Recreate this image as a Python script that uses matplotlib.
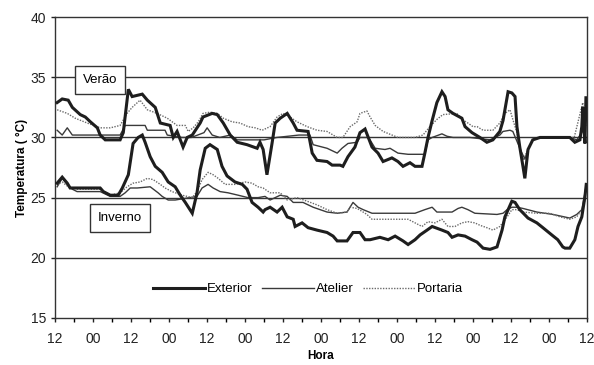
import numpy as np
import matplotlib
matplotlib.use("Agg")
import matplotlib.pyplot as plt

plt.rcParams['font.family'] = ['Liberation Sans', 'DejaVu Sans']

# Verão (summer), hours from first 12:00 mark
ver_ext_h = [0.6, 2.2, 4.1, 5.4, 7.9, 9.5, 11.1, 13.3, 14.2, 15.8, 20.5, 21.5, 22.7, 23.1, 24.3, 27.5,
             29.1, 31.6, 33.2, 36.3, 37.3, 38.5, 40.4, 41.7, 43.3, 45.8, 46.7, 49.6, 51.2, 53.1, 55.3,
             57.5, 60.6, 63.8, 64.7, 65.7, 66.9, 68.5, 69.5, 71.1, 73.3, 75.2, 76.4, 79.9, 81.2, 82.7,
             85.9, 87.5, 90.0, 90.9, 92.5, 94.7, 96.3, 97.9, 100.1, 102.0, 103.6, 106.4, 108.3, 109.9,
             112.1, 113.7, 115.9, 116.8, 117.8, 119.1, 120.6, 122.2, 123.2, 124.1, 125.7, 128.5, 129.5,
             131.7, 134.2, 136.4, 138.3, 140.5, 141.5, 143.1, 144.3, 145.3, 145.9, 146.8, 147.8, 148.4,
             149.4, 150.9, 153.2, 162.6, 164.2, 165.8, 166.4, 166.7, 167.4, 167.7]
ver_ext_t = [32.9, 33.2, 33.1, 32.5, 31.9, 31.7, 31.3, 30.8, 30.2, 29.8, 29.8, 30.4, 33.1, 34.0, 33.4, 33.6,
             33.1, 32.5, 31.2, 31.0, 30.0, 30.5, 29.2, 30.0, 30.2, 31.2, 31.7, 32.0, 31.9, 31.2, 30.2,
             29.6, 29.4, 29.1, 29.6, 29.0, 26.9, 29.5, 31.2, 31.6, 32.0, 31.2, 30.6, 30.5, 28.7, 28.1,
             28.0, 27.7, 27.7, 27.6, 28.4, 29.2, 30.4, 30.7, 29.2, 28.7, 28.0, 28.3, 28.0, 27.6,
             27.9, 27.6, 27.6, 28.7, 30.0, 31.4, 32.9, 33.8, 33.4, 32.3, 32.0, 31.6, 30.9,
             30.4, 30.0, 29.6, 29.8, 30.5, 31.4, 33.8, 33.7, 33.4, 30.9, 29.2, 27.6, 26.6,
             29.0, 29.8, 30.0, 30.0, 29.6, 29.8, 30.9, 32.5, 29.5, 33.3]

ver_ate_h = [0.6, 2.2, 3.8, 5.4, 20.5, 22.1, 28.4, 29.1, 34.7, 35.4, 40.0, 43.0, 47.0, 48.0, 49.6, 52.0,
             55.3, 57.5, 66.0, 70.0, 77.0, 80.5, 81.5, 85.9, 89.1, 90.6, 92.5, 95.4, 96.3, 99.0, 101.1,
             104.2, 105.8, 108.3, 111.5, 116.8, 117.8, 119.1, 122.2, 123.8, 125.7, 131.0, 137.4, 140.5,
             141.5, 143.7, 144.6, 146.2, 147.5, 148.4, 149.4, 150.9, 153.2, 162.6, 164.8, 166.4, 167.6]
ver_ate_t = [30.6, 30.2, 30.8, 30.2, 30.2, 31.0, 31.0, 30.6, 30.6, 30.2, 30.0, 30.0, 30.4, 30.8, 30.2, 30.0,
             30.2, 29.8, 29.8, 30.0, 30.2, 30.2, 29.4, 29.1, 28.7, 29.1, 29.5, 29.6, 30.0, 30.0, 29.1,
             29.0, 29.1, 28.7, 28.6, 28.6, 29.8, 30.0, 30.3, 30.1, 30.0, 30.0, 29.8, 30.2,
             30.5, 30.6, 30.5, 29.5, 28.7, 28.2, 29.0, 29.8, 30.0, 30.0, 29.8, 30.4, 31.0]

ver_por_h = [0.6, 3.8, 6.3, 10.1, 14.2, 17.4, 20.5, 22.7, 24.3, 26.8, 29.1, 32.2, 35.4, 38.5, 41.1, 42.0,
             43.6, 45.2, 46.7, 48.9, 51.2, 53.1, 55.9, 58.4, 60.9, 63.2, 65.4, 67.9, 70.1, 72.0, 74.2,
             76.4, 79.6, 82.7, 85.9, 89.1, 90.9, 93.2, 95.4, 96.3, 98.5, 99.5, 101.1, 103.6, 108.3,
             113.7, 116.2, 118.4, 120.6, 122.5, 126.9, 128.5, 130.4, 132.0, 133.3, 135.2, 138.3, 140.5,
             142.1, 143.7, 144.6, 145.9, 146.8, 147.8, 149.4, 150.9, 153.2, 164.0, 166.7, 167.6]
ver_por_t = [32.3, 32.0, 31.6, 31.2, 30.8, 30.8, 31.0, 32.0, 32.5, 33.1, 32.3, 32.0, 31.6, 31.0, 31.0, 30.5,
             30.8, 31.3, 32.0, 32.1, 32.0, 31.6, 31.3, 31.2, 30.9, 30.8, 30.6, 30.9, 31.7, 32.0, 31.7,
             31.3, 30.9, 30.6, 30.5, 30.0, 30.0, 30.9, 31.3, 32.0, 32.2, 31.7, 31.0, 30.5, 30.0,
             30.0, 30.2, 30.9, 31.5, 31.9, 32.0, 31.5, 31.2, 30.9, 30.9, 30.6, 30.6, 31.2,
             32.0, 32.3, 31.5, 30.4, 29.2, 28.1, 29.0, 29.8, 30.0, 30.0, 32.9, 30.5]

# Inverno (winter)
inv_ext_h = [0.6, 2.2, 3.8, 4.7, 14.2, 15.2, 17.4, 19.9, 21.2, 23.1, 24.6, 26.2, 27.5, 28.4, 30.0, 31.6,
             33.8, 35.7, 37.9, 39.5, 41.1, 43.3, 44.8, 45.8, 47.4, 48.9, 51.2, 52.7, 54.3, 56.8, 59.1,
             60.6, 62.2, 64.1, 65.7, 66.3, 67.9, 70.1, 71.7, 73.3, 75.2, 75.8, 78.0, 79.9, 82.7, 85.9,
             87.8, 89.1, 92.2, 94.1, 96.3, 97.9, 99.5, 102.6, 105.2, 107.4, 109.9, 111.5, 113.7, 115.3,
             117.5, 119.1, 122.2, 124.1, 125.4, 127.3, 129.5, 131.7, 133.3, 135.2, 137.4, 139.6, 141.2,
             142.1, 144.3, 145.3, 146.8, 149.4, 152.2, 154.1, 156.9, 158.8, 160.4, 161.1, 162.6, 164.2,
             165.2, 166.4, 167.4, 167.8]
inv_ext_t = [26.2, 26.7, 26.2, 25.8, 25.8, 25.5, 25.2, 25.2, 25.8, 26.9, 29.5, 30.0, 30.2, 29.6, 28.4, 27.6,
             27.1, 26.3, 25.9, 25.2, 24.6, 23.7, 25.4, 27.3, 29.1, 29.4, 29.0, 27.6, 26.8, 26.3, 26.1,
             25.7, 24.6, 24.2, 23.8, 24.0, 24.2, 23.8, 24.2, 23.4, 23.2, 22.6, 22.9, 22.5, 22.3, 22.1,
             21.8, 21.4, 21.4, 22.1, 22.1, 21.5, 21.5, 21.7, 21.5, 21.8, 21.4, 21.1, 21.5, 21.9,
             22.3, 22.6, 22.3, 22.1, 21.7, 21.9, 21.8, 21.5, 21.3, 20.8, 20.7, 20.9, 22.3,
             23.4, 24.7, 24.6, 24.0, 23.3, 22.9, 22.5, 21.9, 21.5, 20.9, 20.8, 20.8, 21.5,
             22.6, 23.4, 25.1, 26.1]

inv_ate_h = [0.6, 2.2, 3.8, 5.4, 6.9, 14.2, 17.4, 20.5, 22.1, 23.7, 25.9, 30.0, 32.5, 33.8, 35.7, 37.9,
             44.8, 46.4, 48.3, 49.9, 52.1, 54.6, 57.8, 60.9, 64.1, 66.3, 67.9, 71.1, 73.3, 75.2, 78.3,
             81.5, 85.9, 89.1, 92.2, 94.1, 95.7, 97.3, 100.1, 113.7, 116.8, 119.1, 120.6, 125.4, 127.3,
             128.5, 130.4, 132.6, 139.6, 141.5, 142.8, 144.3, 145.9, 147.8, 152.2, 157.3, 162.6, 164.8,
             166.4, 167.4, 167.8]
inv_ate_t = [25.9, 26.6, 26.1, 25.7, 25.5, 25.5, 25.1, 25.1, 25.4, 25.8, 25.8, 25.9, 25.4, 25.1, 24.8, 24.8,
             25.1, 25.8, 26.1, 25.8, 25.5, 25.4, 25.2, 25.0, 25.0, 25.1, 24.8, 25.2, 25.1, 24.6, 24.6,
             24.2, 23.8, 23.7, 23.8, 24.6, 24.2, 24.0, 23.7, 23.7, 24.0, 24.2, 23.8, 23.8, 24.1,
             24.2, 24.0, 23.7, 23.6, 23.7, 24.0, 24.2, 24.2, 24.1, 23.8, 23.6, 23.3, 23.6,
             24.0, 25.4, 26.0]

inv_por_h = [0.6, 2.2, 4.1, 6.9, 14.2, 17.4, 20.5, 22.7, 24.6, 26.8, 29.1, 30.9, 33.2, 34.7, 36.9, 40.1,
             43.3, 44.8, 46.4, 48.3, 49.9, 51.5, 53.7, 56.8, 60.0, 62.2, 64.1, 65.7, 67.9, 71.1, 73.3,
             76.4, 79.6, 82.7, 85.9, 89.1, 92.2, 93.2, 95.4, 97.3, 98.5, 100.1, 104.2, 111.5, 113.7,
             115.9, 117.8, 120.0, 122.2, 124.1, 126.3, 128.5, 130.4, 132.6, 134.2, 136.4, 138.3, 140.5,
             142.8, 144.3, 145.9, 147.8, 152.2, 156.3, 159.5, 162.6, 164.8, 166.4, 167.4]
inv_por_t = [26.1, 26.3, 25.9, 25.7, 25.7, 25.2, 25.4, 25.9, 26.2, 26.3, 26.6, 26.5, 26.1, 25.8, 25.5, 25.2,
             25.0, 25.5, 26.5, 27.1, 26.9, 26.6, 26.1, 26.1, 26.3, 26.2, 25.9, 25.8, 25.4, 25.4, 24.8,
             25.0, 24.7, 24.4, 24.0, 23.7, 23.8, 24.2, 24.1, 23.8, 23.6, 23.2, 23.2, 23.2, 22.9,
             22.6, 23.0, 22.9, 23.2, 22.6, 22.6, 22.9, 23.0, 22.9, 22.7, 22.5, 22.3, 22.6,
             23.4, 24.0, 24.0, 23.8, 23.7, 23.7, 23.4, 23.2, 23.4, 24.0, 24.8]

xtick_labels = ["12", "00"] * 7 + ["12"]

fig = plt.figure(figsize=(5.94, 3.65), dpi=100)
ax = fig.add_axes([0.093, 0.129, 0.895, 0.824])

ext_style = dict(color="#1e1e1e", linewidth=2.2, solid_joinstyle="miter")
ate_style = dict(color="#3a3a3a", linewidth=1.0)
por_style = dict(color="#6a6a6a", linewidth=1.0, linestyle=(0, (1, 1)))

for y in [20, 25, 30, 35]:
    ax.axhline(y, color="#333333", linewidth=1.0, zorder=1)

ax.plot(ver_ate_h, ver_ate_t, **ate_style, zorder=3)
ax.plot(ver_por_h, ver_por_t, **por_style, zorder=3)
ax.plot(ver_ext_h, ver_ext_t, **ext_style, zorder=4)
ax.plot(inv_ate_h, inv_ate_t, **ate_style, zorder=3)
ax.plot(inv_por_h, inv_por_t, **por_style, zorder=3)
ax.plot(inv_ext_h, inv_ext_t, **ext_style, zorder=4)

# legend proxies
ax.plot([], [], label="Exterior", **ext_style)
ax.plot([], [], label="Atelier", **ate_style)
ax.plot([], [], label="Portaria", **por_style)
handles, labels = ax.get_legend_handles_labels()
ax.legend(handles, labels, loc="center", bbox_to_anchor=(0.475, 0.095), ncol=3, frameon=False,
          fontsize=9.5, handlelength=4.0, handletextpad=0.1, columnspacing=0.7)

box = dict(boxstyle="square,pad=0.6", facecolor="white", edgecolor="#333333", linewidth=1.0)
ax.text(14.2, 34.8, "Verão", ha="center", va="center", fontsize=9.5, bbox=box, zorder=6)
ax.text(20.5, 23.3, "Inverno", ha="center", va="center", fontsize=9.5, bbox=box, zorder=6)

ax.set_xlim(0, 168)
ax.set_ylim(15, 40)
ax.set_xticks(np.arange(0, 169, 12))
ax.set_xticklabels(xtick_labels)
ax.set_xticks(np.arange(0, 169, 6), minor=True)
ax.set_yticks([15, 20, 25, 30, 35, 40])
ax.tick_params(axis="both", direction="out", length=3, width=1, labelsize=10, colors="#222222")
ax.tick_params(axis="x", which="minor", direction="out", length=3, width=1)
ax.tick_params(axis="x", pad=7)

for s in ax.spines.values():
    s.set_color("#333333")
    s.set_linewidth(1.0)

ax.set_ylabel("Temperatura ( °C)", fontsize=8.5, fontweight="bold", labelpad=2)
ax.set_xlabel("Hora", fontsize=8.5, fontweight="bold", labelpad=3)

fig.savefig("out.png", dpi=100)
